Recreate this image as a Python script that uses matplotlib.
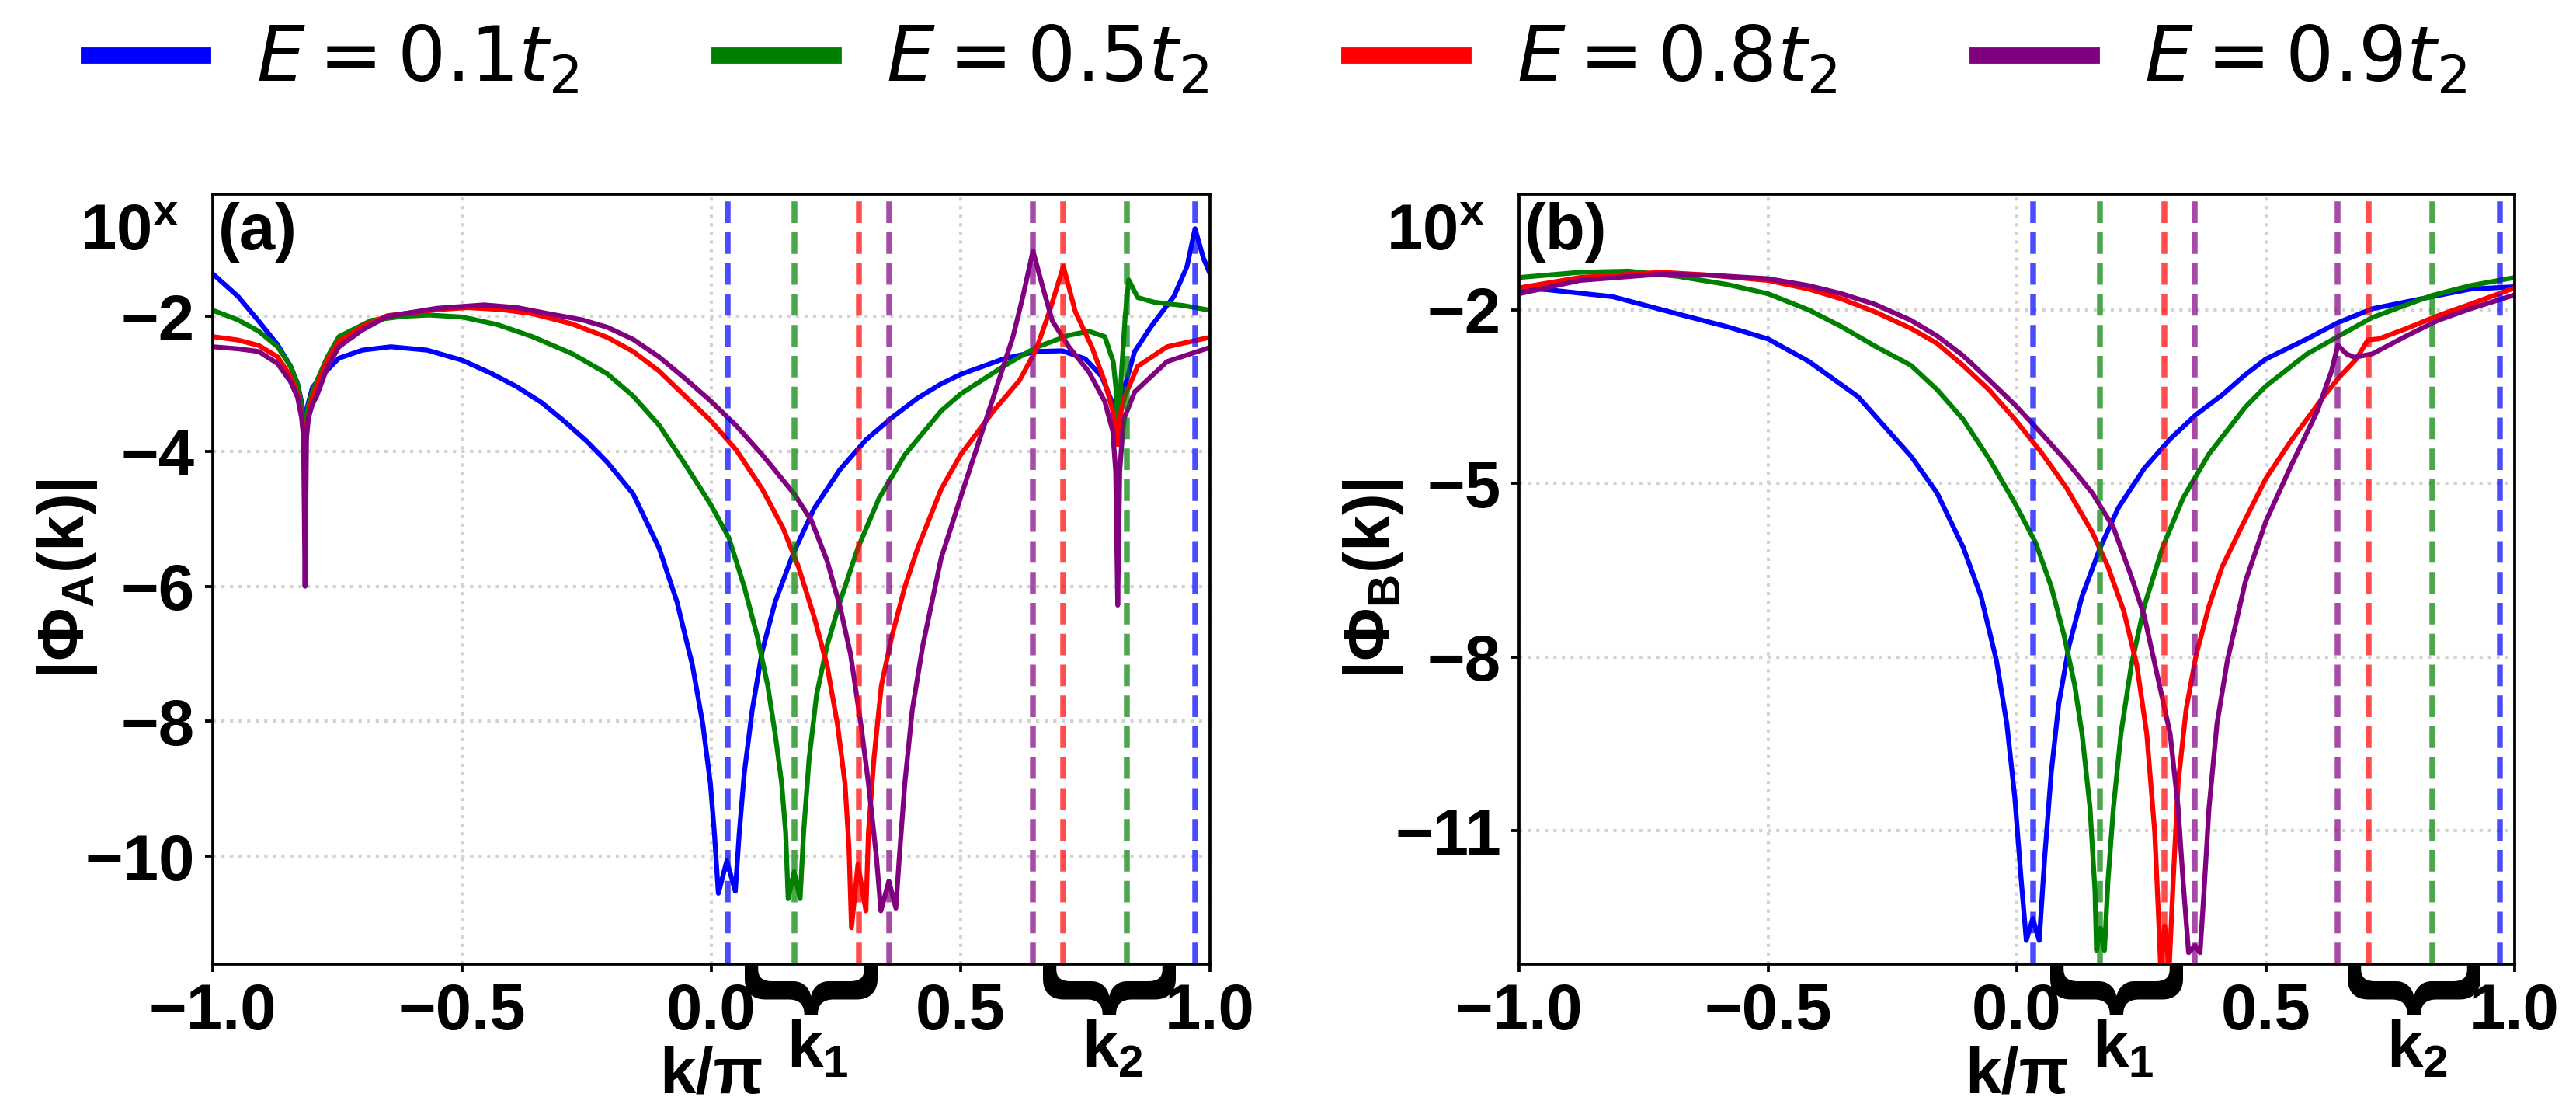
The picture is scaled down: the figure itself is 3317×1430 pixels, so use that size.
#!/usr/bin/env python3
"""|Phi_A(k)| and |Phi_B(k)| on a log10 scale for four energies, with k1/k2 markers."""

import matplotlib
matplotlib.use("Agg")
import matplotlib.pyplot as plt
import matplotlib.transforms as mtransforms


ENERGY_LABELS = [r"$E=0.1t_2$", r"$E=0.5t_2$", r"$E=0.8t_2$", r"$E=0.9t_2$"]
COLORS = ["blue", "green", "red", "purple"]

# positions of the dashed markers (k/pi)
K1 = [0.032, 0.167, 0.296, 0.357]
K2 = [0.970, 0.834, 0.706, 0.645]

# panel (a): (k/pi, log10|Phi_A|)
A_BLUE = [
	(-1.0, -1.37), (-0.95, -1.70), (-0.908, -2.07), (-0.87, -2.42), (-0.844, -2.74),
	(-0.83, -3.0), (-0.821, -3.3), (-0.815, -3.6), (-0.809, -3.3), (-0.80, -3.05),
	(-0.779, -2.86), (-0.747, -2.62), (-0.70, -2.50), (-0.643, -2.45), (-0.57, -2.50),
	(-0.5, -2.65), (-0.44, -2.85), (-0.391, -3.04), (-0.34, -3.28), (-0.294, -3.56),
	(-0.25, -3.85), (-0.209, -4.16), (-0.157, -4.63), (-0.105, -5.43), (-0.069, -6.23),
	(-0.038, -7.17), (-0.017, -8.05), (-0.002, -8.92), (0.006, -9.65), (0.014, -10.55),
	(0.031, -10.07), (0.048, -10.52), (0.056, -9.65), (0.066, -8.77), (0.082, -7.83),
	(0.102, -6.96), (0.128, -6.23), (0.165, -5.50), (0.206, -4.85), (0.258, -4.27),
	(0.31, -3.83), (0.362, -3.50), (0.414, -3.21), (0.461, -3.0), (0.5, -2.86),
	(0.586, -2.63), (0.651, -2.52), (0.704, -2.51), (0.75, -2.63), (0.783, -2.89),
	(0.803, -3.26), (0.815, -3.6), (0.829, -3.04), (0.849, -2.52), (0.882, -2.15),
	(0.928, -1.70), (0.954, -1.26), (0.970, -0.70), (0.987, -1.14), (1.0, -1.37),
]
A_GREEN = [
	(-1.0, -1.91), (-0.95, -2.05), (-0.908, -2.22), (-0.87, -2.45), (-0.844, -2.74),
	(-0.83, -3.0), (-0.821, -3.35), (-0.815, -3.8), (-0.809, -3.35), (-0.80, -3.1),
	(-0.792, -2.97), (-0.77, -2.6), (-0.747, -2.30), (-0.682, -2.06), (-0.62, -2.0),
	(-0.566, -1.98), (-0.5, -2.01), (-0.43, -2.12), (-0.359, -2.30), (-0.28, -2.55),
	(-0.209, -2.85), (-0.157, -3.18), (-0.105, -3.61), (-0.053, -4.19), (-0.002, -4.78),
	(0.035, -5.28), (0.066, -6.01), (0.092, -6.74), (0.113, -7.47), (0.128, -8.19),
	(0.141, -8.92), (0.149, -9.65), (0.154, -10.63), (0.166, -10.23), (0.178, -10.63),
	(0.185, -9.65), (0.196, -8.56), (0.211, -7.61), (0.232, -6.88), (0.258, -6.23),
	(0.294, -5.43), (0.336, -4.70), (0.388, -4.05), (0.461, -3.40), (0.5, -3.15),
	(0.586, -2.74), (0.651, -2.46), (0.717, -2.28), (0.757, -2.22), (0.789, -2.30),
	(0.806, -2.67), (0.812, -3.1), (0.816, -3.7), (0.822, -2.9), (0.83, -2.0),
	(0.837, -1.46), (0.855, -1.72), (0.888, -1.79), (0.947, -1.84), (1.0, -1.91),
]
A_RED = [
	(-1.0, -2.30), (-0.95, -2.35), (-0.908, -2.43), (-0.87, -2.6), (-0.844, -2.89),
	(-0.83, -3.15), (-0.821, -3.5), (-0.815, -4.0), (-0.809, -3.5), (-0.80, -3.2),
	(-0.792, -3.04), (-0.77, -2.65), (-0.747, -2.37), (-0.70, -2.15), (-0.650, -1.99),
	(-0.55, -1.90), (-0.488, -1.87), (-0.42, -1.90), (-0.359, -1.96), (-0.28, -2.11),
	(-0.209, -2.31), (-0.157, -2.52), (-0.105, -2.81), (-0.053, -3.18), (-0.002, -3.54),
	(0.05, -3.98), (0.102, -4.56), (0.144, -5.14), (0.175, -5.72), (0.206, -6.45),
	(0.232, -7.17), (0.253, -8.05), (0.268, -8.92), (0.276, -9.87), (0.281, -11.06),
	(0.294, -10.12), (0.31, -10.81), (0.315, -9.65), (0.326, -8.56), (0.341, -7.47),
	(0.362, -6.74), (0.388, -6.01), (0.414, -5.43), (0.461, -4.56), (0.5, -4.05),
	(0.566, -3.4), (0.618, -2.95), (0.651, -2.50), (0.678, -1.93), (0.706, -1.26),
	(0.730, -1.93), (0.763, -2.45), (0.789, -2.97), (0.805, -3.4), (0.815, -3.9),
	(0.822, -3.4), (0.829, -3.19), (0.855, -2.74), (0.914, -2.45), (1.0, -2.31),
]
A_PURPLE = [
	(-1.0, -2.45), (-0.95, -2.48), (-0.908, -2.52), (-0.87, -2.7), (-0.844, -2.97),
	(-0.83, -3.2), (-0.822, -3.5), (-0.818, -3.8), (-0.815, -6.0), (-0.812, -3.8),
	(-0.808, -3.5), (-0.80, -3.3), (-0.792, -3.19), (-0.77, -2.75), (-0.747, -2.45),
	(-0.70, -2.2), (-0.650, -2.0), (-0.55, -1.88), (-0.456, -1.83), (-0.39, -1.87),
	(-0.327, -1.96), (-0.26, -2.05), (-0.209, -2.16), (-0.157, -2.34), (-0.105, -2.60),
	(-0.053, -2.92), (-0.002, -3.25), (0.05, -3.62), (0.102, -4.05), (0.166, -4.63),
	(0.201, -5.03), (0.232, -5.62), (0.258, -6.3), (0.279, -7.0), (0.30, -8.05),
	(0.315, -8.92), (0.331, -10.01), (0.34, -10.81), (0.356, -10.37), (0.37, -10.77),
	(0.377, -10.01), (0.388, -8.92), (0.403, -7.83), (0.424, -6.88), (0.461, -5.58),
	(0.5, -4.68), (0.566, -3.19), (0.605, -2.30), (0.625, -1.70), (0.645, -1.03),
	(0.664, -1.55), (0.684, -2.07), (0.717, -2.45), (0.757, -2.82), (0.789, -3.26),
	(0.805, -3.7), (0.811, -4.3), (0.815, -6.28), (0.819, -4.3), (0.825, -3.7),
	(0.829, -3.49), (0.849, -3.12), (0.914, -2.67), (1.0, -2.46),
]

# panel (b): (k/pi, log10|Phi_B|)
B_BLUE = [
	(-1.0, -1.62), (-0.944, -1.65), (-0.8125, -1.77), (-0.681, -2.07), (-0.582, -2.29),
	(-0.5, -2.50), (-0.418, -2.89), (-0.319, -3.50), (-0.2125, -4.53), (-0.160, -5.17),
	(-0.108, -6.10), (-0.072, -6.95), (-0.041, -8.06), (-0.020, -9.16), (-0.004, -10.44),
	(0.009, -11.88), (0.019, -12.90), (0.032, -12.52), (0.045, -12.90), (0.056, -11.46),
	(0.069, -10.01), (0.084, -8.82), (0.105, -7.80), (0.131, -6.95), (0.168, -6.10),
	(0.204, -5.42), (0.256, -4.74), (0.308, -4.23), (0.36, -3.81), (0.4125, -3.47),
	(0.459, -3.12), (0.5, -2.85), (0.583, -2.50), (0.645, -2.22), (0.714, -1.98),
	(0.834, -1.77), (0.911, -1.64), (1.0, -1.60),
]
B_GREEN = [
	(-1.0, -1.44), (-0.878, -1.35), (-0.780, -1.33), (-0.681, -1.42), (-0.582, -1.56),
	(-0.5, -1.72), (-0.418, -2.0), (-0.352, -2.29), (-0.286, -2.62), (-0.2125, -2.96),
	(-0.160, -3.38), (-0.108, -3.89), (-0.056, -4.57), (-0.004, -5.34), (0.0375, -6.02),
	(0.069, -6.78), (0.095, -7.63), (0.116, -8.48), (0.131, -9.33), (0.147, -10.61),
	(0.157, -12.05), (0.16, -13.07), (0.168, -12.69), (0.176, -13.07), (0.183, -11.88),
	(0.194, -10.61), (0.209, -9.33), (0.230, -8.14), (0.256, -7.12), (0.293, -6.10),
	(0.334, -5.25), (0.386, -4.49), (0.459, -3.68), (0.5, -3.32), (0.583, -2.76),
	(0.645, -2.46), (0.714, -2.13), (0.834, -1.75), (0.911, -1.58), (1.0, -1.44),
]
B_RED = [
	(-1.0, -1.62), (-0.878, -1.44), (-0.714, -1.35), (-0.615, -1.40), (-0.5, -1.49),
	(-0.418, -1.64), (-0.352, -1.81), (-0.286, -2.03), (-0.2125, -2.32), (-0.160, -2.58),
	(-0.108, -2.96), (-0.056, -3.38), (-0.004, -3.89), (0.048, -4.45), (0.1, -5.08),
	(0.152, -5.85), (0.183, -6.44), (0.215, -7.21), (0.241, -8.14), (0.261, -9.33),
	(0.277, -11.03), (0.285, -12.56), (0.289, -13.4), (0.297, -12.65), (0.306, -13.4),
	(0.314, -11.88), (0.324, -10.18), (0.340, -8.91), (0.360, -7.97), (0.386, -7.12),
	(0.4125, -6.44), (0.452, -5.74), (0.5, -4.92), (0.550, -4.27), (0.616, -3.50),
	(0.649, -3.15), (0.682, -2.85), (0.705, -2.52), (0.727, -2.50), (0.780, -2.33),
	(0.846, -2.10), (0.911, -1.90), (1.0, -1.62),
]
B_PURPLE = [
	(-1.0, -1.72), (-0.878, -1.49), (-0.714, -1.38), (-0.615, -1.40), (-0.5, -1.46),
	(-0.418, -1.58), (-0.352, -1.72), (-0.286, -1.90), (-0.2125, -2.18), (-0.160, -2.45),
	(-0.108, -2.79), (-0.056, -3.21), (-0.004, -3.64), (0.048, -4.12), (0.1, -4.62),
	(0.152, -5.17), (0.194, -5.76), (0.230, -6.61), (0.256, -7.29), (0.282, -8.31),
	(0.308, -9.33), (0.324, -10.61), (0.334, -11.88), (0.345, -13.11), (0.358, -12.99),
	(0.368, -13.11), (0.376, -12.05), (0.386, -10.61), (0.402, -9.16), (0.423, -8.06),
	(0.459, -6.70), (0.5, -5.66), (0.550, -4.71), (0.603, -3.76), (0.632, -3.06),
	(0.645, -2.61), (0.662, -2.76), (0.678, -2.82), (0.714, -2.76), (0.780, -2.46),
	(0.846, -2.18), (0.911, -1.98), (1.0, -1.74),
]

A_YTICKS = [-2, -4, -6, -8, -10]
B_YTICKS = [-2, -5, -8, -11]
X_TICKS = [-1.0, -0.5, 0.0, 0.5, 1.0]


plt.rcParams.update({
	"font.family": ["Liberation Sans", "DejaVu Sans"],
	"mathtext.fontset": "custom",
	"mathtext.rm": "Liberation Sans:bold",
	"mathtext.it": "Liberation Sans:bold",
	"mathtext.bf": "Liberation Sans:bold",
	"mathtext.sf": "Liberation Sans:bold",
	"axes.linewidth": 0.9,
})

FS = 20


def draw_panel(ax, curves, yticks, ylim, tag, ylabel):
	for pts, color in zip(curves, COLORS):
		ax.plot([p[0] for p in pts], [p[1] for p in pts], color=color, lw=1.5)
	for k1, k2, color in zip(K1, K2, COLORS):
		ax.axvline(k1, color=color, ls="--", lw=1.8, alpha=0.7)
		ax.axvline(k2, color=color, ls="--", lw=1.8, alpha=0.7)

	ax.set_xlim(-1, 1)
	ax.set_ylim(*ylim)
	ax.set_xticks(X_TICKS)
	ax.set_yticks(yticks)
	ax.grid(True, ls=":", color="lightgray", lw=1.0)
	ax.tick_params(labelsize=FS, length=2.5, width=0.9, pad=3)
	for lab in ax.get_xticklabels() + ax.get_yticklabels():
		lab.set_fontweight("bold")

	ax.set_xlabel("k/π", fontsize=FS, fontweight="bold")
	ax.xaxis.set_label_coords(0.5, -0.105)
	ax.set_ylabel(ylabel, fontsize=FS)
	ax.yaxis.set_label_coords(-0.114, 0.5)

	ax.text(0.005, 0.99, tag, transform=ax.transAxes, fontsize=FS,
		fontweight="bold", ha="left", va="top")
	ax.text(-0.034, 0.927, r"$10^x$", transform=ax.transAxes, fontsize=FS,
		ha="right", va="baseline")

	# braces grouping the k1 and k2 markers
	trans = mtransforms.blended_transform_factory(ax.transData, ax.transAxes)
	for xc, xl, lab in [(0.197, 0.213, r"$k_1$"), (0.795, 0.804, r"$k_2$")]:
		ax.text(xc, -0.030, "{", transform=trans, fontsize=44, fontweight="bold",
			rotation=90, ha="center", va="center", clip_on=False)
		ax.text(xl, -0.072, lab, transform=trans, fontsize=FS,
			ha="center", va="top", clip_on=False)


def main():
	fig = plt.figure(figsize=(3317 / 300, 1430 / 300), dpi=300)
	ax_a = fig.add_axes([274 / 3317, 189 / 1430, 1284 / 3317, 991 / 1430])
	ax_b = fig.add_axes([1956 / 3317, 189 / 1430, 1282 / 3317, 991 / 1430])

	draw_panel(ax_a, [A_BLUE, A_GREEN, A_RED, A_PURPLE], A_YTICKS, (-11.6, -0.19),
		"(a)", r"$|\Phi_A(k)|$")
	draw_panel(ax_b, [B_BLUE, B_GREEN, B_RED, B_PURPLE], B_YTICKS, (-13.31, 0.0),
		"(b)", r"$|\Phi_B(k)|$")

	handles = ax_a.get_lines()[:4]
	leg = fig.legend(handles, ENERGY_LABELS, loc="center", bbox_to_anchor=(0.496, 0.945),
		ncol=4, frameon=False, handlelength=1.5, handletextpad=0.7, columnspacing=1.85,
		prop={"size": 23.5, "weight": "normal", "math_fontfamily": "dejavusans"})
	for line in leg.get_lines():
		line.set_linewidth(5)

	fig.savefig("out.png", dpi=300)
	plt.close(fig)


if __name__ == "__main__":
	main()
